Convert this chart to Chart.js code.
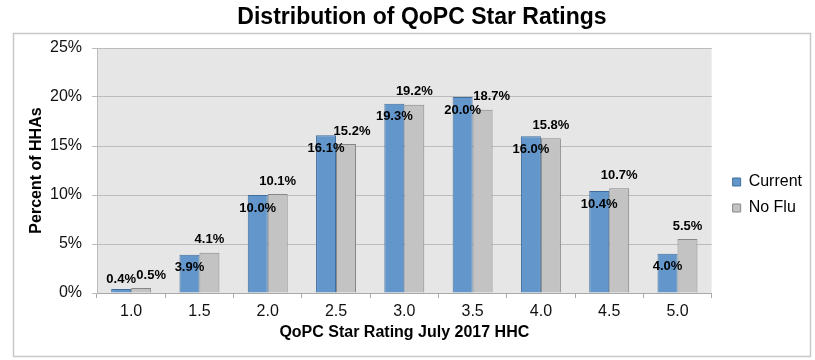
<!DOCTYPE html>
<html>
<head>
<meta charset="utf-8">
<script src="https://cdn.jsdelivr.net/npm/chart.js@4/dist/chart.umd.min.js"></script>
<style>
  html, body { margin: 0; padding: 0; background: #ffffff; }
  #wrap { width: 815px; height: 360px; position: relative; }
</style>
</head>
<body>
<div id="wrap"><canvas id="c" width="815" height="360"></canvas></div>
<script>
const categories = ['1.0', '1.5', '2.0', '2.5', '3.0', '3.5', '4.0', '4.5', '5.0'];
const currentValues = [0.4, 3.9, 10.0, 16.1, 19.3, 20.0, 16.0, 10.4, 4.0];
const noFluValues = [0.5, 4.1, 10.1, 15.2, 19.2, 18.7, 15.8, 10.7, 5.5];
const yTickValues = [0, 5, 10, 15, 20, 25];

const FONT = 'Arial, "Liberation Sans", sans-serif';

const frameAndTitle = {
  id: 'frameAndTitle',
  beforeDraw(chart) {
    const ctx = chart.ctx;
    const a = chart.chartArea;
    ctx.save();
    ctx.strokeStyle = '#c8c8c8';
    ctx.lineWidth = 1.5;
    ctx.strokeRect(13.5, 33.5, 797, 323);
    ctx.fillStyle = '#e6e6e6';
    ctx.fillRect(a.left, a.top, a.right - a.left, a.bottom - a.top);
    ctx.fillStyle = '#000000';
    ctx.font = 'bold 23px ' + FONT;
    ctx.textAlign = 'center';
    ctx.textBaseline = 'middle';
    ctx.fillText('Distribution of QoPC Star Ratings', 422, 18);
    ctx.restore();
  }
};

const barLabels = {
  id: 'barLabels',
  afterDatasetsDraw(chart, args, opts) {
    const ctx = chart.ctx;
    ctx.save();
    ctx.font = 'bold 13px ' + FONT;
    ctx.fillStyle = '#000000';
    ctx.textAlign = 'center';
    ctx.textBaseline = 'middle';
    chart.data.datasets.forEach((ds, di) => {
      const meta = chart.getDatasetMeta(di);
      meta.data.forEach((bar, i) => {
        const txt = ds.data[i].toFixed(1) + '%';
        const h = bar.base - bar.y;
        let x = bar.x, y;
        if (di === 0) {
          y = h < 20 ? bar.y - 10 : bar.y + 13;
        } else {
          x += (opts.noFluNudge[i] || 0);
          y = bar.y - 13;
        }
        ctx.fillText(txt, x, y);
      });
    });
    ctx.restore();
  }
};

new Chart(document.getElementById('c'), {
  type: 'bar',
  data: {
    labels: categories,
    datasets: [
      {
        label: 'Current',
        data: currentValues,
        backgroundColor: '#6397cb',
        borderColor: '#3f6e9e',
        borderWidth: 1
      },
      {
        label: 'No Flu',
        data: noFluValues,
        backgroundColor: '#c3c3c3',
        borderColor: '#878787',
        borderWidth: 1
      }
    ]
  },
  options: {
    responsive: false,
    animation: false,
    devicePixelRatio: 1,
    layout: { padding: { top: 48, bottom: 18, left: 14, right: 3 } },
    datasets: { bar: { barPercentage: 1.0, categoryPercentage: 0.585 } },
    plugins: {
      title: { display: false },
      tooltip: { enabled: false },
      legend: {
        position: 'right',
        labels: {
          boxWidth: 8,
          boxHeight: 8,
          padding: 10,
          color: '#000000',
          font: { family: FONT, size: 16 }
        }
      },
      barLabels: { noFluNudge: [10, 0, 0, 6, 0, 9, 0, 0, 0] }
    },
    scales: {
      x: {
        offset: true,
        grid: { display: true, offset: true, drawOnChartArea: false, drawTicks: true, tickLength: 5, color: '#a9a9a9' },
        border: { display: true, color: '#a9a9a9' },
        ticks: { color: '#111111', padding: 4, font: { family: FONT, size: 16 } },
        title: {
          display: true,
          text: 'QoPC Star Rating July 2017 HHC',
          color: '#000000',
          font: { family: FONT, size: 16, weight: 'bold' },
          padding: { top: 0, bottom: 0 }
        },
        afterFit(s) { s.height = 49; }
      },
      y: {
        min: 0,
        max: 25,
        afterBuildTicks(s) { s.ticks = yTickValues.map(v => ({ value: v })); },
        grid: { color: '#bcbcbc', tickLength: 5, drawTicks: true },
        border: { display: true, color: '#bcbcbc' },
        ticks: {
          color: '#111111',
          padding: 10,
          font: { family: FONT, size: 16 },
          callback: v => v + '%'
        },
        title: {
          display: true,
          text: 'Percent of HHAs',
          color: '#000000',
          font: { family: FONT, size: 16, weight: 'bold' },
          padding: { top: 13, bottom: 0 }
        },
        afterFit(s) { s.width = 83; }
      },
      gap: {
        position: 'right',
        display: true,
        grid: { display: false, drawOnChartArea: false },
        border: { display: false },
        ticks: { display: false },
        afterFit(s) { s.width = 11; }
      }
    }
  },
  plugins: [frameAndTitle, barLabels]
});
</script>
</body>
</html>
